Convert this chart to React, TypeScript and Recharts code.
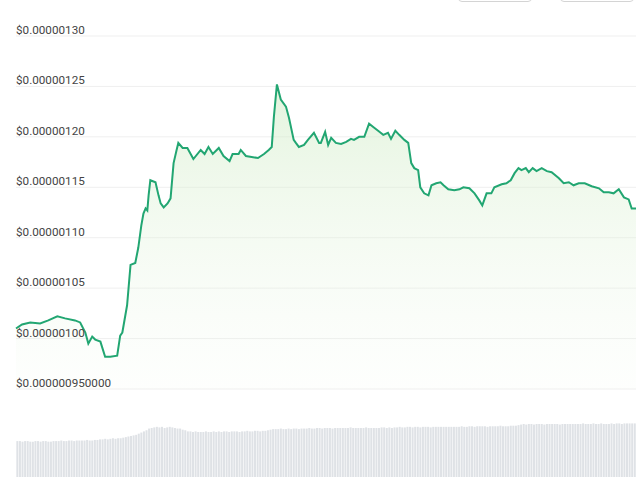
import React from "react";
import { Area, AreaChart, Bar, BarChart, CartesianGrid, XAxis, YAxis } from "recharts";

// price in units of 1e-8 USD, time in minutes over the 24h window
const TIME_MIN = [
  0, 14, 33, 56, 75, 96, 114, 137, 149, 161, 168, 177, 184, 196, 207, 219, 235, 242, 247, 258, 266, 277, 284, 291, 296, 301,
  305, 308, 312, 324, 331, 336, 343, 352, 359, 366, 373, 377, 387, 398, 412, 429, 438, 447, 457, 471, 482, 496, 503, 517,
  522, 534, 562, 576, 587, 594, 599, 606, 615, 627, 634, 645, 650, 657, 669, 678, 692, 704, 708, 718, 725, 732, 743, 755,
  767, 778, 785, 797, 809, 820, 832, 844, 853, 864, 871, 881, 890, 902, 911, 918, 925, 934, 939, 948, 958, 965, 976, 986,
  993, 1004, 1018, 1030, 1039, 1053, 1065, 1076, 1083, 1093, 1104, 1111, 1128, 1139, 1149, 1158, 1167, 1174, 1184, 1191,
  1200, 1209, 1221, 1233, 1244, 1261, 1272, 1284, 1295, 1307, 1321, 1337, 1354, 1365, 1377, 1388, 1400, 1412, 1423, 1430, 1440,
];
const PRICE_E8 = [
  101.0, 101.4, 101.6, 101.5, 101.8, 102.2, 102.0, 101.8, 101.6, 100.6, 99.5, 100.2, 99.9, 99.7, 98.2, 98.2, 98.3, 100.3,
  100.6, 103.3, 107.3, 107.5, 109.0, 111.2, 112.4, 112.9, 112.7, 114.2, 115.7, 115.5, 114.2, 113.4, 113.0, 113.4, 113.9,
  117.4, 118.7, 119.4, 118.9, 118.9, 117.8, 118.7, 118.3, 119.0, 118.3, 118.9, 118.1, 117.6, 118.3, 118.3, 118.7, 118.1,
  117.9, 118.3, 118.7, 119.0, 122.0, 125.2, 123.7, 123.0, 121.9, 119.7, 119.4, 119.0, 119.2, 119.7, 120.4, 119.4, 119.4,
  120.5, 119.2, 119.9, 119.4, 119.3, 119.5, 119.8, 119.7, 120.0, 120.0, 121.3, 120.9, 120.5, 120.2, 120.4, 119.8, 120.6,
  120.2, 119.7, 119.4, 117.4, 116.9, 116.7, 115.0, 114.4, 114.2, 115.2, 115.4, 115.5, 115.2, 114.8, 114.7, 114.8, 115.0,
  114.9, 114.4, 113.7, 113.2, 114.4, 114.4, 115.0, 115.3, 115.4, 115.7, 116.4, 116.9, 116.7, 116.9, 116.5, 116.9, 116.6,
  116.9, 116.6, 116.5, 115.9, 115.4, 115.5, 115.2, 115.4, 115.4, 115.1, 114.9, 114.5, 114.5, 114.4, 114.8, 114.0, 113.8,
  112.9, 112.9,
];

const PRICE_TICKS = [95, 100, 105, 110, 115, 120, 125, 130];
const PRICE_TICK_LABELS = [
  "$0.000000950000",
  "$0.00000100",
  "$0.00000105",
  "$0.00000110",
  "$0.00000115",
  "$0.00000120",
  "$0.00000125",
  "$0.00000130",
];

// relative volume bars, 6-minute buckets
const VOLUME = [
  63, 63, 62, 63, 63, 62, 62, 63, 63, 62, 63, 63, 62, 62, 63, 63, 63, 64, 63, 63, 64, 64, 63, 64,
  64, 64, 64, 65, 64, 64, 65, 65, 66, 66, 67, 66, 67, 68, 67, 68, 68, 69, 70, 71, 72, 73, 74, 76,
  78, 80, 82, 85, 86, 87, 88, 87, 88, 86, 87, 88, 87, 86, 85, 85, 83, 82, 80, 80, 79, 80, 79, 79,
  79, 80, 79, 79, 80, 79, 80, 79, 80, 80, 79, 80, 80, 80, 79, 80, 80, 81, 80, 80, 81, 81, 80, 81,
  81, 82, 83, 84, 84, 84, 85, 84, 84, 85, 84, 85, 85, 84, 85, 85, 85, 86, 85, 85, 86, 86, 85, 86,
  86, 86, 85, 86, 86, 86, 86, 86, 86, 87, 86, 86, 86, 86, 86, 87, 86, 86, 86, 86, 86, 87, 87, 86,
  87, 86, 87, 87, 88, 87, 87, 88, 88, 87, 88, 88, 87, 88, 88, 88, 87, 88, 88, 88, 88, 88, 88, 88,
  88, 88, 88, 88, 89, 88, 88, 89, 89, 88, 89, 89, 89, 89, 88, 89, 89, 89, 89, 90, 89, 89, 89, 90,
  90, 90, 91, 92, 93, 92, 93, 93, 92, 93, 93, 93, 92, 93, 93, 93, 93, 93, 92, 93, 93, 93, 93, 93,
  93, 93, 93, 94, 93, 93, 93, 94, 93, 93, 94, 93, 93, 93, 94, 93, 94, 94, 93, 94, 94, 94, 94, 94,
];
const TIME_TICKS = [70, 250, 430, 610, 790, 970, 1150, 1330];

const priceData = TIME_MIN.map((t, i) => ({ t, price: PRICE_E8[i] }));
const volumeData = VOLUME.map((v, i) => ({ i, v }));

function PriceTick(props: any) {
  const { y, payload } = props;
  const label = PRICE_TICK_LABELS[PRICE_TICKS.indexOf(payload.value)];
  return (
    <text x={16} y={y - 2} fill="#444" fontSize={11.7} textAnchor="start">
      {label}
    </text>
  );
}

const btn: React.CSSProperties = {
  position: "absolute",
  top: -30,
  height: 32,
  width: 74,
  border: "1px solid #d4d4d4",
  borderRadius: 4,
  boxSizing: "border-box",
};

export default function App() {
  return (
    <div
      style={{
        position: "absolute",
        left: 0,
        top: 0,
        width: 640,
        height: 481,
        overflow: "hidden",
        background: "#fff",
        fontFamily: "Roboto, sans-serif",
      }}
    >
      <div style={{ ...btn, left: 458 }} />
      <div style={{ ...btn, left: 560 }} />

      <div style={{ position: "absolute", left: 0, top: 0 }}>
        <AreaChart width={640} height={400} data={priceData} margin={{ top: 36, right: 4, bottom: 11, left: 16 }}>
          <defs>
            <linearGradient id="priceFill" x1="0" y1="0" x2="0" y2="1">
              <stop offset="0%" stopColor="#cdebc2" stopOpacity={0.9} />
              <stop offset="100%" stopColor="#eef8ea" stopOpacity={0.15} />
            </linearGradient>
          </defs>
          <CartesianGrid vertical={false} stroke="#efefef" />
          <XAxis dataKey="t" type="number" domain={[0, 1440]} hide />
          <YAxis
            domain={[95, 130]}
            ticks={PRICE_TICKS}
            mirror
            axisLine={false}
            tickLine={false}
            tick={<PriceTick />}
            allowDataOverflow
          />
          <Area
            type="linear"
            dataKey="price"
            stroke="#22a672"
            strokeWidth={2}
            fill="url(#priceFill)"
            dot={false}
            activeDot={false}
            isAnimationActive={false}
          />
        </AreaChart>
      </div>

      <div style={{ position: "absolute", left: 0, top: 400 }}>
        <BarChart width={640} height={100} data={volumeData} margin={{ top: 20, right: 4, bottom: 0, left: 16 }} barCategoryGap={0.35}>
          <XAxis dataKey="i" hide />
          <XAxis
            xAxisId="t"
            type="number"
            domain={[0, 1440]}
            ticks={TIME_TICKS}
            allowDataOverflow
            height={23}
            stroke="#e2e2e2"
            tickLine={{ stroke: "#c8c8c8" }}
            tickSize={6}
            tickFormatter={() => ""}
          />
          <YAxis domain={[0, 100]} hide />
          <Bar dataKey="v" fill="#dfe2e6" isAnimationActive={false} />
        </BarChart>
      </div>
    </div>
  );
}
